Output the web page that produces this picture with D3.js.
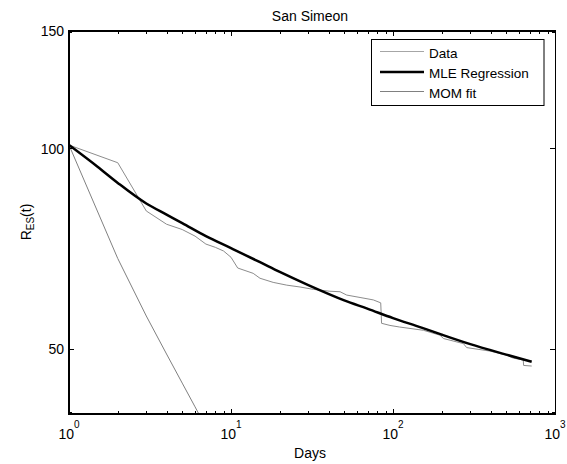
<!DOCTYPE html>
<html>
<head>
<meta charset="utf-8">
<script src="https://cdn.jsdelivr.net/npm/d3@7"></script>
<style>
  html, body { margin: 0; padding: 0; background: #fff; }
  svg { display: block; font-family: Arial, "Liberation Sans", sans-serif; }
</style>
</head>
<body>
<svg id="chart" width="567" height="464"></svg>
<script>
// ---- data ----
const titleText = "San Simeon";
const xLabelText = "Days";
const legendLabels = ["Data", "MLE Regression", "MOM fit"];

const dataDays   = [1, 2, 3, 4, 5, 6, 7, 8, 9, 10, 11, 13.7, 15.1, 18.2, 22.1, 26.7, 32.2, 40.8, 47.1, 51.8, 62.6, 75.6, 84, 85, 95.8, 110, 154, 195, 205, 272, 285, 397, 504, 553, 637, 640, 718];
const dataValues = [101.2, 95.2, 80.6, 77.0, 75.6, 73.9, 71.9, 71.1, 70.2, 68.7, 66.2, 65.0, 63.9, 63.0, 62.4, 62.0, 61.5, 61.1, 61.0, 60.3, 59.8, 59.3, 58.7, 54.7, 54.3, 54.0, 53.4, 52.5, 51.9, 51.0, 50.3, 49.7, 49.0, 48.5, 48.2, 47.3, 47.2];

const mleDays   = [1, 1.5, 2, 3, 4, 5, 7, 10, 15, 20, 30, 50, 70, 100, 150, 200, 300, 500, 718];
const mleValues = [101.2, 93.9, 88.8, 82.7, 79.6, 77.3, 73.9, 70.9, 67.6, 65.3, 62.4, 59.2, 57.5, 55.7, 53.9, 52.6, 50.9, 49.1, 47.9];

const momDays   = [1, 2, 3, 4, 5, 6, 7];
const momValues = [101.2, 68.4, 56.1, 49.2, 44.5, 41.0, 38.2];

const xMajorTicks = [1, 10, 100, 1000];
const xTickExponents = ["0", "1", "2", "3"];
const yMajorTicks = [50, 100, 150];
const yMinorTicks = [40, 150];

// ---- layout ----
const L = 69, R = 555, T = 31, B = 414;
const svg = d3.select("#chart");

const x = d3.scaleLog().domain([1, 1000]).range([L, R]);
const y = d3.scaleLog().domain([40, 150]).range([B, T]);

svg.append("rect").attr("width", 567).attr("height", 464).attr("fill", "#fff");

svg.append("defs").append("clipPath").attr("id", "plotclip")
  .append("rect").attr("x", L).attr("y", T).attr("width", R - L).attr("height", B - T);

const plot = svg.append("g").attr("clip-path", "url(#plotclip)");

const line = d3.line().x(d => x(d[0])).y(d => y(d[1]));
const smooth = d3.line().x(d => x(d[0])).y(d => y(d[1])).curve(d3.curveMonotoneX);

plot.append("path").datum(d3.zip(dataDays, dataValues))
  .attr("d", line).attr("fill", "none").attr("stroke", "#8c8c8c").attr("stroke-width", 1);
plot.append("path").datum(d3.zip(momDays, momValues))
  .attr("d", line).attr("fill", "none").attr("stroke", "#808080").attr("stroke-width", 1);
plot.append("path").datum(d3.zip(mleDays, mleValues))
  .attr("d", smooth).attr("fill", "none").attr("stroke", "#000").attr("stroke-width", 2.5);

// ---- ticks ----
const xMinor = [];
for (let k = 0; k < 3; k++) for (let m = 2; m <= 9; m++) xMinor.push(m * Math.pow(10, k));

const tk = svg.append("g").attr("stroke", "#000").attr("stroke-width", 1);
xMinor.forEach(v => {
  const px = Math.round(x(v)) + 0.5;
  tk.append("line").attr("x1", px).attr("x2", px).attr("y1", B).attr("y2", B - 3);
  tk.append("line").attr("x1", px).attr("x2", px).attr("y1", T).attr("y2", T + 3);
});
xMajorTicks.forEach(v => {
  const px = Math.round(x(v)) + 0.5;
  tk.append("line").attr("x1", px).attr("x2", px).attr("y1", B).attr("y2", B - 5);
  tk.append("line").attr("x1", px).attr("x2", px).attr("y1", T).attr("y2", T + 5);
});
yMajorTicks.forEach(v => {
  const py = Math.round(y(v)) + 0.5;
  tk.append("line").attr("x1", L).attr("x2", L + 5).attr("y1", py).attr("y2", py);
  tk.append("line").attr("x1", R).attr("x2", R - 5).attr("y1", py).attr("y2", py);
});
yMinorTicks.forEach(v => {
  const py = Math.round(y(v)) - 0.5 + (v === 150 ? 2 : -1);
  tk.append("line").attr("x1", L).attr("x2", L + 3).attr("y1", py).attr("y2", py);
  tk.append("line").attr("x1", R).attr("x2", R - 3).attr("y1", py).attr("y2", py);
});

// ---- axes box ----
const ax = svg.append("g").attr("stroke", "#000");
ax.append("line").attr("x1", L).attr("x2", L).attr("y1", T - 1).attr("y2", B + 1).attr("stroke-width", 2);
ax.append("line").attr("x1", L - 1).attr("x2", R).attr("y1", B).attr("y2", B).attr("stroke-width", 2);
ax.append("line").attr("x1", L - 1).attr("x2", R).attr("y1", T).attr("y2", T).attr("stroke-width", 2);
ax.append("line").attr("x1", R + 0.5).attr("x2", R + 0.5).attr("y1", T - 1).attr("y2", B + 1).attr("stroke-width", 1);

// ---- tick labels ----
const xl = svg.append("g").attr("font-size", 14).attr("fill", "#000");
xMajorTicks.forEach((v, i) => {
  const t = xl.append("text").attr("x", x(v)).attr("y", 438.5).attr("text-anchor", "middle");
  t.append("tspan").text("10");
  t.append("tspan").attr("font-size", 10).attr("dy", -11).text(xTickExponents[i]);
});
const yl = svg.append("g").attr("font-size", 14).attr("fill", "#000");
yMajorTicks.forEach(v => {
  yl.append("text").attr("x", 64).attr("y", y(v)).attr("dy", "0.36em")
    .attr("text-anchor", "end").text(String(v));
});

// ---- titles ----
svg.append("text").attr("x", 310).attr("y", 20.5).attr("text-anchor", "middle")
  .attr("font-size", 14).text(titleText);
svg.append("text").attr("x", 310).attr("y", 458).attr("text-anchor", "middle")
  .attr("font-size", 14).text(xLabelText);

const yt = svg.append("text").attr("transform", "translate(31,222) rotate(-90)")
  .attr("text-anchor", "middle").attr("font-size", 14);
yt.append("tspan").text("R");
yt.append("tspan").attr("font-size", 10).attr("dy", 3).text("ES");
yt.append("tspan").attr("dy", -3).text("(t)");

// ---- legend ----
const lg = svg.append("g");
lg.append("rect").attr("x", 371.5).attr("y", 39.5).attr("width", 172.5).attr("height", 66)
  .attr("fill", "#fff").attr("stroke", "#000").attr("stroke-width", 1);
const legendStyles = [
  { stroke: "#a6a6a6", w: 1 },
  { stroke: "#000", w: 2.5 },
  { stroke: "#808080", w: 1 }
];
const legendLineY = [51.5, 72, 91.5];
const legendTextY = [57.5, 77.5, 97.5];
legendLabels.forEach((lab, i) => {
  lg.append("line").attr("x1", 380).attr("x2", 424).attr("y1", legendLineY[i]).attr("y2", legendLineY[i])
    .attr("stroke", legendStyles[i].stroke).attr("stroke-width", legendStyles[i].w);
  lg.append("text").attr("x", 429).attr("y", legendTextY[i]).attr("font-size", 13.5).text(lab);
});
</script>
</body>
</html>
